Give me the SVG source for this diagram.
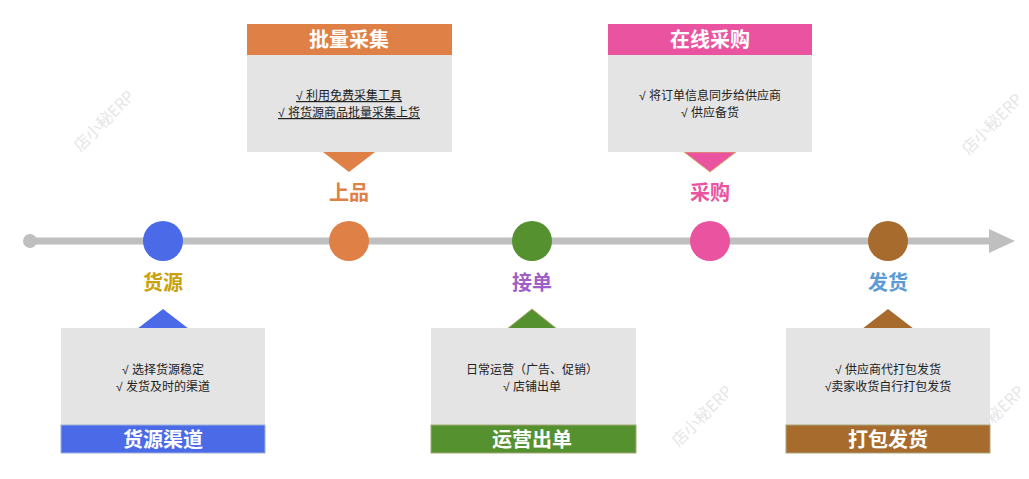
<svg xmlns="http://www.w3.org/2000/svg" width="1029" height="479" viewBox="0 0 1029 479">
<style>
text{font-family:"Noto Sans CJK SC","Liberation Sans",sans-serif;text-anchor:middle}
.box{fill:#e4e4e4}
.hd{fill:#fff;font-size:20px;font-weight:bold}
.tx{fill:#222;font-size:12px;font-family:"Liberation Sans","Noto Sans CJK SC",sans-serif}
.lb{font-size:20px;font-weight:bold}
.wm{fill:#e6e6e6;font-size:16px}
</style>
<g id="watermarks">
<text class="wm" transform="translate(108,125) rotate(-45)">店小秘ERP</text>
<text class="wm" transform="translate(996,128) rotate(-45)">店小秘ERP</text>
<text class="wm" transform="translate(706,420) rotate(-45)">店小秘ERP</text>
<text class="wm" transform="translate(998,420) rotate(-45)">店小秘ERP</text>
</g>
<g id="connectors">
<line x1="30" y1="241" x2="992" y2="241" stroke="#bfbfbf" stroke-width="7"/>
<circle cx="30" cy="241" r="7" fill="#bfbfbf"/>
<polygon points="989,229 1015,241 989,253" fill="#bfbfbf"/>
</g>
<g id="n-huoyuan">
<circle cx="163" cy="241" r="20" fill="#4a6ae8"/>
<text class="lb" x="163" y="290" fill="#c9a10a">货源</text>
<polygon points="137,329 163,309 189,329" fill="#4a6ae8"/>
<rect class="box" x="61" y="328" width="204" height="97"/>
<text class="tx" x="163" y="374">√ 选择货源稳定</text>
<text class="tx" x="163" y="391">√ 发货及时的渠道</text>
<rect x="61" y="425" width="204" height="28" fill="#4a6ae8" stroke="#9db0d8"/>
<text class="hd" x="163" y="447">货源渠道</text>
</g>
<g id="n-shangpin">
<circle cx="349" cy="241" r="20" fill="#df8046"/>
<text class="lb" x="349" y="200" fill="#df8046">上品</text>
<rect x="247" y="24" width="205" height="31" fill="#df8046"/>
<text class="hd" x="349" y="47">批量采集</text>
<rect class="box" x="247" y="55" width="205" height="97"/>
<polygon points="323,152 375,152 349,172" fill="#df8046"/>
<text class="tx" x="349" y="100" text-decoration="underline">√ 利用免费采集工具</text>
<text class="tx" x="349" y="117" text-decoration="underline">√ 将货源商品批量采集上货</text>
</g>
<g id="n-jiedan">
<circle cx="532" cy="241" r="20" fill="#55922f"/>
<text class="lb" x="532" y="290" fill="#a05ec8">接单</text>
<polygon points="507,329 532,309 557,329" fill="#55922f" stroke="#a7a77a"/>
<rect class="box" x="431" y="328" width="205" height="97"/>
<text class="tx" x="532" y="374">日常运营（广告、促销）</text>
<text class="tx" x="532" y="391">√ 店铺出单</text>
<rect x="431" y="425" width="205" height="28" fill="#55922f" stroke="#a7a77a"/>
<text class="hd" x="532" y="447">运营出单</text>
</g>
<g id="n-caigou">
<circle cx="710" cy="241" r="20" fill="#e9539f"/>
<text class="lb" x="710" y="200" fill="#e9539f">采购</text>
<rect x="608" y="24" width="204" height="31" fill="#e9539f"/>
<text class="hd" x="710" y="47">在线采购</text>
<polygon points="684,152 736,152 710,172" fill="#e9539f" stroke="#d8b060"/>
<rect class="box" x="608" y="55" width="204" height="97"/>
<text class="tx" x="710" y="100">√ 将订单信息同步给供应商</text>
<text class="tx" x="710" y="117">√ 供应备货</text>
</g>
<g id="n-fahuo">
<circle cx="888" cy="241" r="20" fill="#a86b2e"/>
<text class="lb" x="888" y="290" fill="#5b9bd5">发货</text>
<polygon points="862,329 888,309 914,329" fill="#a86b2e"/>
<rect class="box" x="786" y="328" width="204" height="97"/>
<text class="tx" x="888" y="374">√ 供应商代打包发货</text>
<text class="tx" x="888" y="391">√卖家收货自行打包发货</text>
<rect x="786" y="425" width="204" height="28" fill="#a86b2e" stroke="#a7a77a"/>
<text class="hd" x="888" y="447">打包发货</text>
</g>
</svg>
